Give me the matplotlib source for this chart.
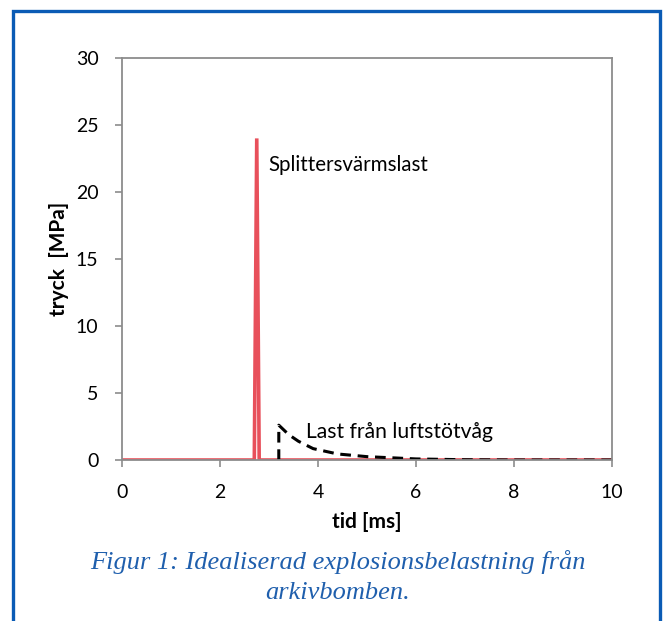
import matplotlib
matplotlib.use("Agg")
import matplotlib.pyplot as plt
from matplotlib.patches import Rectangle

# Data
spike_t = [0, 2.7, 2.75, 2.8, 10]
spike_p = [0, 0, 24, 0, 0]
blast_t = [3.2, 3.2, 3.4, 3.6, 3.9, 4.4, 5.0, 6.0, 7.0, 8.0, 10.0]
blast_p = [0, 2.6, 1.9, 1.4, 0.85, 0.45, 0.25, 0.08, 0.02, 0.0, 0.0]
x_ticks = [0, 2, 4, 6, 8, 10]
y_ticks = [0, 5, 10, 15, 20, 25, 30]

W, H = 665, 621
fig = plt.figure(figsize=(W / 100, H / 100), dpi=100)
fig.patch.set_facecolor("white")

# blue frame
fig.add_artist(Rectangle((13 / W, -0.05), (660 - 13) / W, (H - 11) / H + 0.05,
                         transform=fig.transFigure, fill=False,
                         edgecolor="#0A5BB5", linewidth=2.4))

ax = fig.add_axes([122 / W, (H - 460) / H, (612 - 122) / W, (460 - 58) / H])
font = "Lato"
gray = "#8C8C8C"

ax.plot(spike_t, spike_p, color="#E8505B", linewidth=2.6, solid_joinstyle="miter")
ax.plot(blast_t, blast_p, color="black", linewidth=2.2, linestyle=(0, (3.5, 2.2)))

ax.set_xlim(0, 10)
ax.set_ylim(0, 30)
ax.set_xticks(x_ticks)
ax.set_yticks(y_ticks)
for s in ax.spines.values():
    s.set_color(gray)
    s.set_linewidth(1.3)
ax.tick_params(direction="out", length=5, width=1.2, color=gray,
               labelsize=14, pad=12)
ax.tick_params(axis="x", pad=12)
for lab in ax.get_xticklabels() + ax.get_yticklabels():
    lab.set_fontfamily(font)
    lab.set_color("black")

ax.set_xlabel("tid [ms]", fontsize=15, fontweight="bold", family=font, labelpad=8)
ax.set_ylabel("tryck  [MPa]", fontsize=15, fontweight="bold", family=font, labelpad=5)

ax.text(2.98, 22.0, "Splittersvärmslast", fontsize=14.8, family=font,
        va="center", ha="left")
ax.text(3.75, 2.1, "Last från luftstötvåg", fontsize=15.2, family=font,
        va="center", ha="left")

fig.text(338 / W, 1 - 562 / H, "Figur 1: Idealiserad explosionsbelastning från",
         fontsize=19, style="italic", family="Liberation Serif",
         color="#1F5FAD", ha="center", va="center")
fig.text(338 / W, 1 - 593 / H, "arkivbomben.",
         fontsize=19, style="italic", family="Liberation Serif",
         color="#1F5FAD", ha="center", va="center")

fig.savefig("out.png", dpi=100)
